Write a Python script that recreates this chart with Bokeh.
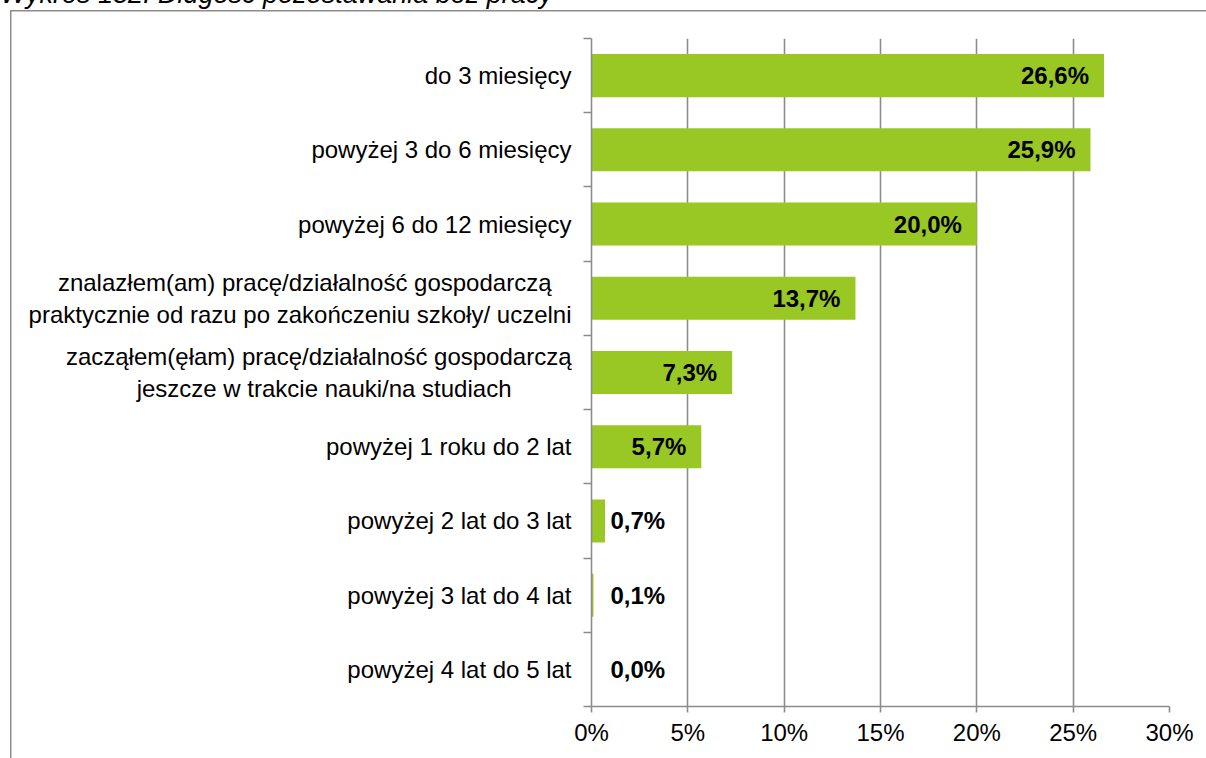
from bokeh.plotting import figure
from bokeh.models import Range1d, FixedTicker, ColumnDataSource, Title
from bokeh.embed import file_html
from bokeh.resources import INLINE
from bokeh.core.properties import value

# ---- data ----
title_text = "Wykres 152. Długość pozostawania bez pracy"
categories = [
    ["do 3 miesięcy"],
    ["powyżej 3 do 6 miesięcy"],
    ["powyżej 6 do 12 miesięcy"],
    ["znalazłem(am) pracę/działalność gospodarczą",
     "praktycznie od razu po zakończeniu szkoły/ uczelni"],
    ["zacząłem(ęłam) pracę/działalność gospodarczą",
     "jeszcze w trakcie nauki/na studiach"],
    ["powyżej 1 roku do 2 lat"],
    ["powyżej 2 lat do 3 lat"],
    ["powyżej 3 lat do 4 lat"],
    ["powyżej 4 lat do 5 lat"],
]
values = [26.6, 25.9, 20.0, 13.7, 7.3, 5.7, 0.7, 0.1, 0.0]
x_ticks = [0, 5, 10, 15, 20, 25, 30]
x_tick_labels = ["0%", "5%", "10%", "15%", "20%", "25%", "30%"]

# ---- style ----
FONT = "Liberation Sans"
GREEN = "#99C724"
GRAY = "#8c8c8c"
FS = "24px"
NBSP = "\u00a0"
# trailing non-breaking spaces so that the lines of a two-line label look centred
line_pad = {(3, 0): 3, (4, 1): 9}

n = len(categories)
SHIFT = 60                      # figure is pulled up so the title is cut at the top
frame_left, frame_top, frame_w, frame_h = 591, 38 + SHIFT, 578, 668
W, H = 1206, 758 + SHIFT

p = figure(width=W, height=H, x_range=Range1d(0, 30), y_range=Range1d(n, 0),
           output_backend="svg", toolbar_location=None,
           min_border_left=frame_left, min_border_top=frame_top,
           min_border_right=W - frame_left - frame_w,
           min_border_bottom=H - frame_top - frame_h)
p.styles = {
    "margin-top": f"-{SHIFT}px",
    "background-image": f"linear-gradient({GRAY}, {GRAY}), linear-gradient({GRAY}, {GRAY})",
    "background-size": "1.5px 100%, 100% 1.5px",
    "background-position": f"10px {10 + SHIFT}px, 10px {10 + SHIFT}px",
    "background-repeat": "no-repeat",
}
p.outline_line_color = None
p.background_fill_color = "white"
p.border_fill_color = None

# bottom-aligned title: its lower edge sits standoff/2 above the plot frame
p.title = Title(text=title_text, align="left", offset=-591, standoff=60,
                vertical_align="bottom",
                text_font=FONT, text_font_style="italic", text_font_size="27px",
                text_color="black")

ys = [i + 0.5 for i in range(n)]
labs = [f"{v:.1f}".replace(".", ",") + "%" for v in values]
cat_text = ["\n".join(l + NBSP * line_pad.get((i, k), 0) for k, l in enumerate(lines))
            for i, lines in enumerate(categories)]
src = ColumnDataSource(dict(y=ys, v=values, lab=labs))
p.hbar(y="y", right="v", left=0, height=0.58, source=src, color=GREEN, line_color=None)

# grid
p.ygrid.grid_line_color = None
p.xgrid.ticker = FixedTicker(ticks=x_ticks)
p.xgrid.grid_line_color = GRAY
p.xgrid.grid_line_width = 1.6

# x axis
p.xaxis.ticker = FixedTicker(ticks=x_ticks)
p.xaxis.major_label_overrides = {t: l for t, l in zip(x_ticks, x_tick_labels)}
p.xaxis.axis_line_color = GRAY
p.xaxis.axis_line_width = 1.6
p.xaxis.major_tick_line_color = GRAY
p.xaxis.major_tick_line_width = 1.6
p.xaxis.major_tick_out = 6
p.xaxis.major_tick_in = 0
p.xaxis.minor_tick_line_color = None
p.xaxis.major_label_text_font = FONT
p.xaxis.major_label_text_font_size = FS
p.xaxis.major_label_text_color = "black"
p.xaxis.major_label_standoff = 6

# y axis: labels at category centres, small ticks at category boundaries
p.yaxis.ticker = FixedTicker(ticks=ys, minor_ticks=list(range(n + 1)))
p.yaxis.major_label_overrides = {y: c for y, c in zip(ys, cat_text)}
p.yaxis.axis_line_color = GRAY
p.yaxis.axis_line_width = 1.6
p.yaxis.major_tick_line_color = None
p.yaxis.major_tick_out = 0
p.yaxis.major_tick_in = 0
p.yaxis.minor_tick_line_color = GRAY
p.yaxis.minor_tick_line_width = 1.6
p.yaxis.minor_tick_out = 8
p.yaxis.minor_tick_in = 0
p.yaxis.major_label_standoff = 12
p.yaxis.major_label_text_font = FONT
p.yaxis.major_label_text_font_size = FS
p.yaxis.major_label_text_color = "black"

# value labels
inside = [i for i, v in enumerate(values) if v >= 3]
outside = [i for i, v in enumerate(values) if v < 3]
src_in = ColumnDataSource(dict(x=[values[i] for i in inside], y=[ys[i] for i in inside],
                               t=[labs[i] for i in inside]))
src_out = ColumnDataSource(dict(x=[0 for i in outside], y=[ys[i] for i in outside],
                                t=[labs[i] for i in outside]))
p.text(x="x", y="y", text="t", source=src_in, x_offset=-15, text_align="right",
       text_baseline="middle", text_font=value(FONT), text_font_size=FS,
       text_font_style="bold", text_color="black")
p.text(x="x", y="y", text="t", source=src_out, x_offset=19, text_align="left",
       text_baseline="middle", text_font=value(FONT), text_font_size=FS,
       text_font_style="bold", text_color="black")

open("out.html", "w").write(file_html(p, INLINE))
